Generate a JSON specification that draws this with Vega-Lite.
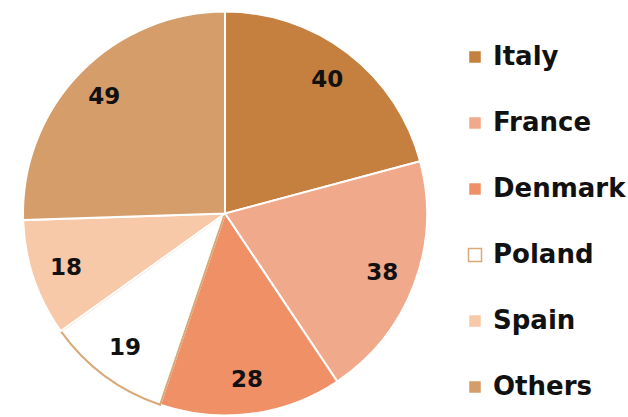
{
  "$schema": "https://vega.github.io/schema/vega-lite/v6.json",
  "width": 450,
  "height": 407,
  "padding": {"top": 10, "left": 0, "right": 178, "bottom": 0},
  "autosize": {"type": "none"},
  "background": "white",
  "config": {"view": {"stroke": null}},
  "data": {
    "values": [
      {"country": "Italy", "value": 40, "idx": 1},
      {"country": "France", "value": 38, "idx": 2},
      {"country": "Denmark", "value": 28, "idx": 3},
      {"country": "Poland", "value": 19, "idx": 4},
      {"country": "Spain", "value": 18, "idx": 5},
      {"country": "Others", "value": 49, "idx": 6}
    ]
  },
  "encoding": {
    "theta": {"field": "value", "type": "quantitative", "stack": true},
    "order": {"field": "idx", "type": "quantitative"}
  },
  "layer": [
    {
      "mark": {"type": "arc", "outerRadius": 202, "strokeWidth": 2},
      "encoding": {
        "fill": {
          "field": "country",
          "type": "nominal",
          "sort": ["Italy", "France", "Denmark", "Poland", "Spain", "Others"],
          "scale": {
            "domain": ["Italy", "France", "Denmark", "Poland", "Spain", "Others"],
            "range": ["#c57f3e", "#f0a98a", "#ef9066", "#ffffff", "#f7c9a8", "#d59d6a"]
          },
          "legend": {
            "title": null,
            "orient": "none",
            "legendX": 462,
            "legendY": 34,
            "padding": 0,
            "symbolType": "square",
            "symbolSize": 169,
            "symbolStrokeWidth": 1.5,
            "labelFont": "DejaVu Sans",
            "labelFontWeight": "bold",
            "labelFontSize": 26,
            "labelColor": "#111111",
            "labelOffset": 5,
            "rowPadding": 40,
            "labelLimit": 300
          }
        },
        "stroke": {
          "field": "country",
          "type": "nominal",
          "sort": ["Italy", "France", "Denmark", "Poland", "Spain", "Others"],
          "scale": {
            "domain": ["Italy", "France", "Denmark", "Poland", "Spain", "Others"],
            "range": ["#ffffff", "#ffffff", "#ffffff", "#d9a877", "#ffffff", "#ffffff"]
          },
          "legend": {
            "title": null,
            "orient": "none",
            "legendX": 462,
            "legendY": 34,
            "padding": 0,
            "symbolType": "square",
            "symbolSize": 169,
            "symbolStrokeWidth": 1.5,
            "labelFont": "DejaVu Sans",
            "labelFontWeight": "bold",
            "labelFontSize": 26,
            "labelColor": "#111111",
            "labelOffset": 5,
            "rowPadding": 40,
            "labelLimit": 300
          }
        }
      }
    },
    {
      "mark": {"type": "text", "radius": 168, "font": "DejaVu Sans", "fontWeight": "bold", "fontSize": 23, "color": "#111111"},
      "encoding": {
        "text": {"field": "value", "type": "quantitative"}
      }
    }
  ]
}
